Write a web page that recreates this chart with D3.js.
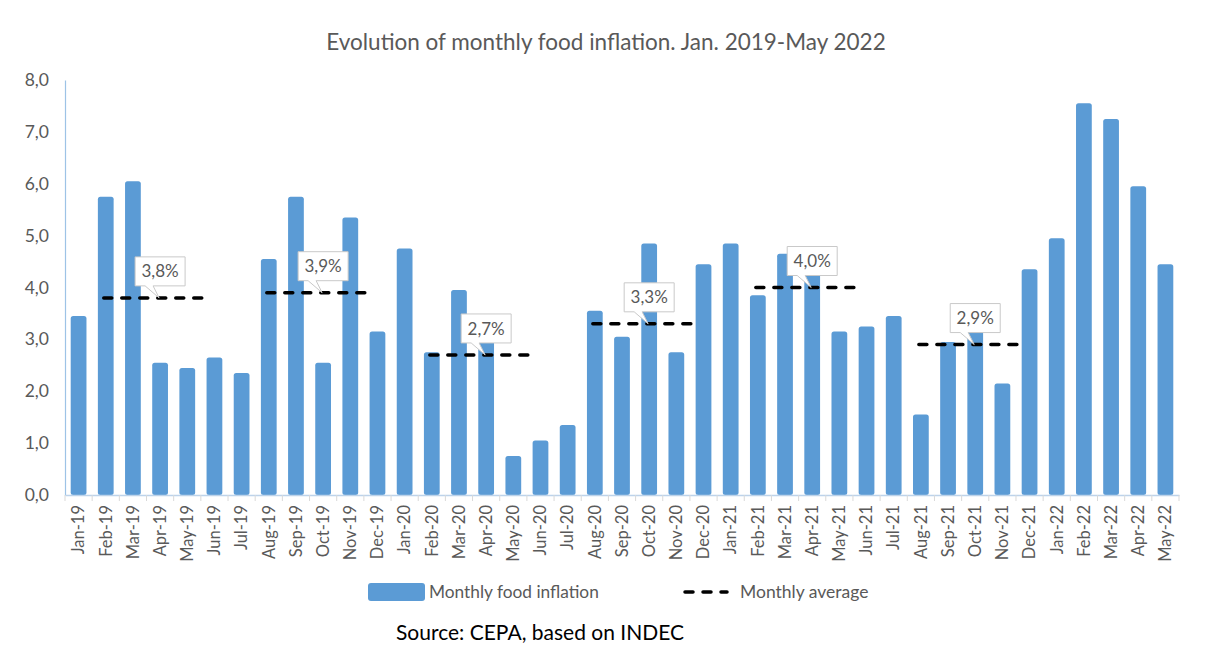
<!DOCTYPE html>
<html><head><meta charset="utf-8">
<script src="https://cdn.jsdelivr.net/npm/d3@7"></script>
<style>body{margin:0;background:#fff}svg{display:block;font-family:Lato,'Open Sans',sans-serif}</style>
</head><body>
<svg id="c" width="1206" height="657"></svg>
<script>
const months = ["Jan-19","Feb-19","Mar-19","Apr-19","May-19","Jun-19","Jul-19","Aug-19","Sep-19","Oct-19","Nov-19","Dec-19",
"Jan-20","Feb-20","Mar-20","Apr-20","May-20","Jun-20","Jul-20","Aug-20","Sep-20","Oct-20","Nov-20","Dec-20",
"Jan-21","Feb-21","Mar-21","Apr-21","May-21","Jun-21","Jul-21","Aug-21","Sep-21","Oct-21","Nov-21","Dec-21",
"Jan-22","Feb-22","Mar-22","Apr-22","May-22"];
const inflation = [3.45,5.75,6.05,2.55,2.45,2.65,2.35,4.55,5.75,2.55,5.35,3.15,
4.75,2.75,3.95,3.25,0.75,1.05,1.35,3.55,3.05,4.85,2.75,4.45,
4.85,3.85,4.65,4.35,3.15,3.25,3.45,1.55,2.95,3.45,2.15,4.35,
4.95,7.55,7.25,5.95,4.45];
const avgStart = ["Feb-19","Aug-19","Feb-20","Aug-20","Feb-21","Aug-21"];
const avgEnd   = ["Jun-19","Dec-19","Jun-20","Dec-20","Jun-21","Dec-21"];
const avgLabelAt = ["Apr-19","Oct-19","Apr-20","Oct-20","Apr-21","Oct-21"];
const avgValues = [3.8,3.9,2.7,3.3,4.0,2.9];
const avgLabels = ["3,8%","3,9%","2,7%","3,3%","4,0%","2,9%"];
const yTicks = [0,1,2,3,4,5,6,7,8];

const svg = d3.select("#c");
const gray = "#595959", blue = "#5b9bd5";
const FF = "Lato,'Open Sans',sans-serif";
const x = d3.scaleBand().domain(months).range([65,1179]).paddingInner(0.42).paddingOuter(0.21);
const y = d3.scaleLinear().domain([0,8]).range([495,80]);

svg.append("text").attr("x",606).attr("y",50).attr("text-anchor","middle")
  .attr("font-size",22.5).attr("fill",gray).text("Evolution of monthly food inflation. Jan. 2019-May 2022");

// y axis
const yAx = svg.append("g").attr("transform","translate(65,0)")
  .call(d3.axisLeft(y).tickValues(yTicks).tickSize(0).tickPadding(16).tickFormat(d=>d3.format(".1f")(d).replace(".",",")));
yAx.select(".domain").attr("stroke","#9dc3e6").attr("stroke-width",1.2);
yAx.selectAll("text").attr("font-size",17.5).attr("fill",gray).attr("font-family",FF);

// bars
svg.append("g").selectAll("rect").data(months).join("rect")
  .attr("x",d=>x(d)).attr("width",x.bandwidth())
  .attr("y",(d,i)=>y(inflation[i])).attr("height",(d,i)=>y(0)-y(inflation[i]))
  .attr("rx",2.5).attr("fill",blue);

// x axis
const xAx = svg.append("g").attr("transform","translate(0,495)")
  .call(d3.axisBottom(x).tickSize(0).tickPadding(10));
xAx.select(".domain").attr("stroke","#bdd3ea").attr("stroke-width",1.5);
xAx.selectAll("text").attr("font-size",16.5).attr("fill",gray).attr("font-family",FF)
  .attr("transform","rotate(-90)").attr("text-anchor","end").attr("dy","0.35em").attr("x",-10).attr("y",0);
// category separator ticks
const step = x.step();
svg.append("g").selectAll("line").data(d3.range(months.length+1)).join("line")
  .attr("x1",i=>65+i*step).attr("x2",i=>65+i*step).attr("y1",495).attr("y2",501)
  .attr("stroke","#d9d9d9").attr("stroke-width",1);

// average lines
const cx = d=>x(d)+x.bandwidth()/2;
svg.append("g").selectAll("line").data(avgValues).join("line")
  .attr("x1",(d,i)=>cx(avgStart[i])-2).attr("x2",(d,i)=>cx(avgEnd[i])-3)
  .attr("y1",d=>y(d)).attr("y2",d=>y(d))
  .attr("stroke","#000").attr("stroke-width",3.5).attr("stroke-dasharray","8,10").attr("stroke-linecap","round");

// callouts
const cg = svg.append("g").selectAll("g").data(avgValues).join("g");
cg.each(function(d,i){
  const g = d3.select(this), c = cx(avgLabelAt[i]), ly = y(d), bot = ly-12, bw=50, bh=29;
  g.append("path").attr("d",`M${c-bw/2},${bot-bh}H${c+bw/2}V${bot}H${c-7}L${c-1},${ly}L${c-15},${bot}H${c-bw/2}Z`)
    .attr("fill","#fff").attr("stroke","#c9c9c9").attr("stroke-width",1);
  g.append("text").attr("x",c).attr("y",bot-bh/2).attr("dy","0.36em").attr("text-anchor","middle")
    .attr("font-size",17).attr("fill",gray).text(avgLabels[i]);
});

// legend
svg.append("rect").attr("x",368).attr("y",583).attr("width",57).attr("height",18).attr("rx",3).attr("fill",blue);
svg.append("text").attr("x",429).attr("y",592).attr("dy","0.35em").attr("font-size",17.3).attr("fill",gray).text("Monthly food inflation");
svg.append("line").attr("x1",685).attr("x2",727).attr("y1",592).attr("y2",592).attr("stroke","#000")
  .attr("stroke-width",3.5).attr("stroke-dasharray","8,10").attr("stroke-linecap","round");
svg.append("text").attr("x",740).attr("y",592).attr("dy","0.35em").attr("font-size",17.5).attr("fill",gray).text("Monthly average");
svg.append("text").attr("x",540).attr("y",633).attr("dy","0.35em").attr("text-anchor","middle").attr("font-size",21).attr("fill","#000").text("Source: CEPA, based on INDEC");
</script>
</body></html>
